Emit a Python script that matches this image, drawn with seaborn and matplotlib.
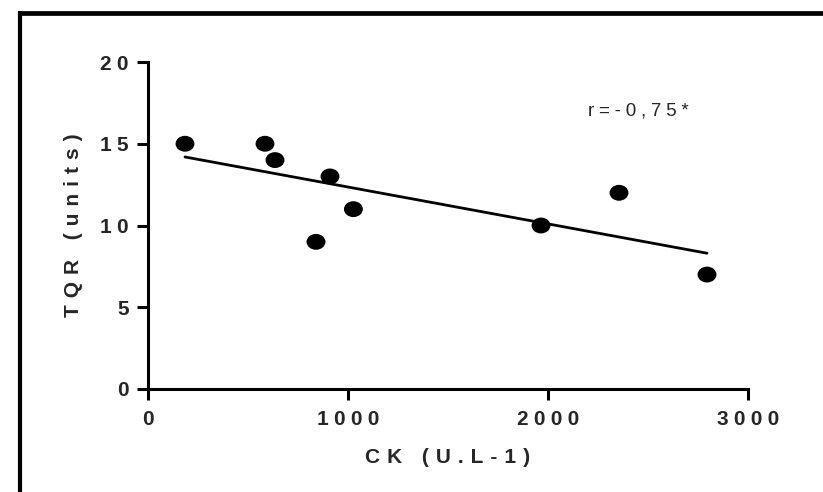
import matplotlib
matplotlib.use("Agg")
import matplotlib.pyplot as plt
from matplotlib.lines import Line2D
from matplotlib.markers import MarkerStyle
from matplotlib.transforms import Affine2D
import pandas as pd
import seaborn as sns

# values
ck = [185, 585, 635, 910, 840, 1027, 1965, 2355, 2795]
tqr = [15, 15, 14, 13, 9, 11, 10, 12, 7]

x_ticks = [0, 1000, 2000, 3000]
y_ticks = [0, 5, 10, 15, 20]
x_label = "CK (U.L-1)"
y_label = "TQR (units)"
r_text = "r=-0,75*"

df = pd.DataFrame({"CK": ck, "TQR": tqr})

sns.set_theme(style="ticks")
plt.rcParams["font.family"] = ["Liberation Sans", "DejaVu Sans"]


def spaced(s, gap="\u2005"):
    # the original graph uses very wide letter spacing
    return gap.join(list(s))


fig = plt.figure(figsize=(8.23, 4.92), dpi=100)
ax = fig.add_axes([148 / 823, 1 - 389 / 492, 600 / 823, 327 / 492])

dot = MarkerStyle("o", transform=Affine2D().scale(1.0, 0.84))
sns.regplot(data=df, x="CK", y="TQR", ax=ax, ci=None, truncate=True,
            marker=dot,
            scatter_kws={"s": 185, "color": "black", "edgecolors": "none", "alpha": 1},
            line_kws={"color": "black", "lw": 2.0})

ax.set_xlim(0, 3000)
ax.set_ylim(0, 20)
ax.set_xticks(x_ticks)
ax.set_xticklabels([spaced(str(t)) for t in x_ticks])
ax.set_yticks(y_ticks)
ax.set_yticklabels([spaced(str(t)) for t in y_ticks])
for lab in ax.get_xticklabels() + ax.get_yticklabels():
    lab.set_fontweight("bold")
    lab.set_fontsize(15)

ax.tick_params(axis="both", length=8, width=2.2, color="black")
ax.tick_params(axis="x", pad=7)
ax.tick_params(axis="y", pad=6)
sns.despine(ax=ax)
for side in ["left", "bottom"]:
    ax.spines[side].set_linewidth(2.2)
    ax.spines[side].set_color("black")

ax.set_xlabel(spaced(x_label, "\u2004"), fontsize=15, fontweight="bold", labelpad=14)
ax.set_ylabel(spaced(y_label, "\u2004"), fontsize=15, fontweight="bold", labelpad=12)

ax.text(2450, 17.0, spaced(r_text), ha="center", va="center", fontsize=13.5)

# outer frame of the original figure (top and left edges only)
fig.add_artist(Line2D([18 / 823, 1.0], [1 - 13 / 492, 1 - 13 / 492],
                      transform=fig.transFigure, color="black", lw=3.4,
                      solid_capstyle="butt"))
fig.add_artist(Line2D([20 / 823, 20 / 823], [0.0, 1 - 11 / 492],
                      transform=fig.transFigure, color="black", lw=3.0,
                      solid_capstyle="butt"))

fig.savefig("out.png", dpi=100)
